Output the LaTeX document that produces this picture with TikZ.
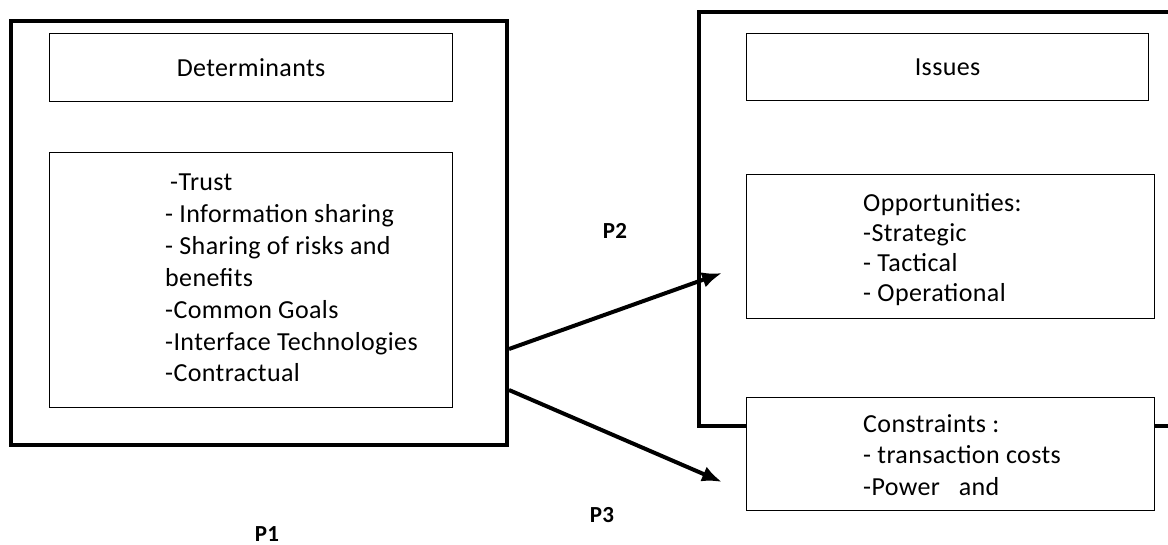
\documentclass[tikz,border=0pt]{standalone}
\usepackage{fontspec}
\setmainfont[LetterSpace=1.5]{Carlito}
\usetikzlibrary{arrows.meta}

\begin{document}
\begin{tikzpicture}[x=1pt,y=-1pt,
  outerbox/.style={draw,line width=4pt,inner sep=0,anchor=north west},
  innerbox/.style={draw,line width=1.2pt,inner sep=0,anchor=north west,fill=white,font=\fontsize{26}{32}\selectfont},
  itemtext/.style={align=left,anchor=base west,inner sep=0},
  plabel/.style={font=\bfseries\fontsize{23}{26}\selectfont,inner sep=0},
  linkarrow/.style={line width=4pt,-{Latex[length=20pt,width=16pt]}}]
  \useasboundingbox (0,0) rectangle (1168,545);

  % left side
  \node [outerbox,minimum width=496pt,minimum height=424pt] (outerL) at (9,19) {};
  \node [innerbox,minimum width=403pt,minimum height=68pt] (detBox) at (49,33) {Determinants};
  \node [innerbox,minimum width=403pt,minimum height=255pt] (listBox) at (49,152) {};
  % base of a multi-line node = last line
  \node [itemtext,font=\fontsize{26}{32}\selectfont] (listText) at (165,382)
     {\hspace{5pt}-Trust\\- Information sharing\\- Sharing of risks and\\benefits\\-Common Goals\\-Interface Technologies\\-Contractual};

  % right side
  \node [outerbox,minimum width=520pt,minimum height=414pt] (outerR) at (697,10) {};
  \node [innerbox,minimum width=402pt,minimum height=67pt] (issBox) at (746,33) {Issues};
  \node [innerbox,minimum width=408pt,minimum height=144pt] (oppBox) at (746,174) {};
  \node [itemtext,font=\fontsize{26}{30}\selectfont] (oppText) at (863,302)
     {Opportunities:\\-Strategic\\- Tactical\\- Operational};
  \node [innerbox,minimum width=408pt,minimum height=113pt] (conBox) at (746,397) {};
  \node [itemtext,font=\fontsize{26}{31.5}\selectfont] (conText) at (863,495)
     {Constraints :\\- transaction costs\\-Power\ \ \ and};

  % links
  \coordinate (p2tip) at (722,273);
  \coordinate (p3tip) at (722,482);
  \draw [linkarrow] ([yshift=-116pt]outerL.east) -- (p2tip);
  \draw [linkarrow] ([yshift=-157pt]outerL.east) -- (p3tip);

  \foreach \lab/\x/\y in {P1/267/534,P2/615/231,P3/602/515}
    \node [plabel] (\lab) at (\x,\y) {\lab};
\end{tikzpicture}
\end{document}
